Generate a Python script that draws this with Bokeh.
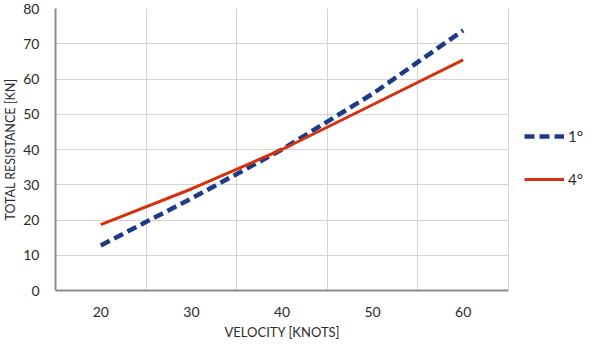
from bokeh.plotting import figure
from bokeh.models import FixedTicker, Legend, LegendItem, ColumnDataSource, BoxAnnotation, Title
from bokeh.embed import file_html
from bokeh.resources import INLINE

velocity = [20, 30, 40, 50, 60]
res_1deg = [12.8, 26.1, 40.0, 55.8, 73.8]
res_4deg = [18.7, 28.8, 40.0, 52.7, 65.4]
x_ticks = [20, 30, 40, 50, 60]
y_ticks = [0, 10, 20, 30, 40, 50, 60, 70, 80]
series_labels = ["1°", "4°"]
x_title = "VELOCITY [KNOTS]"
y_title = "TOTAL RESISTANCE [KN]"

FONT = "Lato"
TXT = "#2b2b2b"
GRID = "#d4d4d4"

x_lo, x_hi = 15, 65          # category-style plot area for 20..60
# the frame continues to the right to host the legend; that strip is masked
px_per_unit = 9.06
frame_left = 55
frame_w = 584 - frame_left
x_view_end = x_lo + frame_w / px_per_unit
plot_right_px = frame_left + (x_hi - x_lo) * px_per_unit

p = figure(width=584, height=341, output_backend="svg", toolbar_location=None,
           x_range=(x_lo, x_view_end), y_range=(0, 80),
           min_border_left=frame_left, min_border_right=0, min_border_top=8, min_border_bottom=51)
p.outline_line_color = None

src = ColumnDataSource(dict(x=velocity, a=res_1deg, b=res_4deg))
r1 = p.line("x", "a", source=src, line_color="#1c3a87", line_width=4.5, line_dash="10 5")
r2 = p.line("x", "b", source=src, line_color="#d6300c", line_width=3)

p.xaxis.ticker = FixedTicker(ticks=x_ticks)
p.yaxis.ticker = FixedTicker(ticks=y_ticks)
p.xgrid.ticker = FixedTicker(ticks=[x + 5 for x in x_ticks])
p.ygrid.ticker = FixedTicker(ticks=y_ticks)
p.xgrid.grid_line_color = GRID
p.ygrid.grid_line_color = GRID
p.xaxis.bounds = (x_lo, x_hi)

# white mask over the legend strip right of the plot border
mask = BoxAnnotation(left=x_hi + 0.06, fill_color="white", fill_alpha=1.0, line_color=None)
p.add_layout(mask)

for ax in (p.xaxis, p.yaxis):
    ax.major_tick_line_color = None
    ax.minor_tick_line_color = None
    ax.axis_line_color = "#8c8c8c"
    ax.axis_line_width = 2
    ax.major_label_text_font = FONT
    ax.major_label_text_font_size = "14px"
    ax.major_label_text_color = TXT
    ax.axis_label_text_font = FONT
    ax.axis_label_text_font_style = "normal"
    ax.axis_label_text_color = TXT

p.yaxis.axis_label = y_title
p.yaxis.axis_label_text_font_size = "12.5px"
p.xaxis.major_label_standoff = 10
p.yaxis.major_label_standoff = 10
p.yaxis.axis_label_standoff = 2

# x-axis title centred on the plot area (not the extended frame)
plot_center = (frame_left + plot_right_px) / 2
approx_title_w = 115
xt = Title(text=x_title, align="left",
           offset=plot_center - frame_left - approx_title_w / 2,
           text_font=FONT, text_font_size="13px", text_font_style="normal",
           text_color=TXT)
if "standoff" in Title.properties():
    xt.standoff = 4
p.add_layout(xt, "below")

legend = Legend(items=[LegendItem(label=series_labels[0], renderers=[r1]),
                       LegendItem(label=series_labels[1], renderers=[r2])],
                location=(469, 101))
legend.border_line_color = None
legend.background_fill_alpha = 0
legend.padding = 0
legend.margin = 0
legend.glyph_width = 40
legend.glyph_height = 20
legend.label_height = 20
legend.spacing = 23
legend.label_standoff = 4
legend.label_text_font = FONT
legend.label_text_font_size = "15px"
legend.label_text_color = TXT
p.add_layout(legend, "center")

open("out.html", "w").write(file_html(p, INLINE))
